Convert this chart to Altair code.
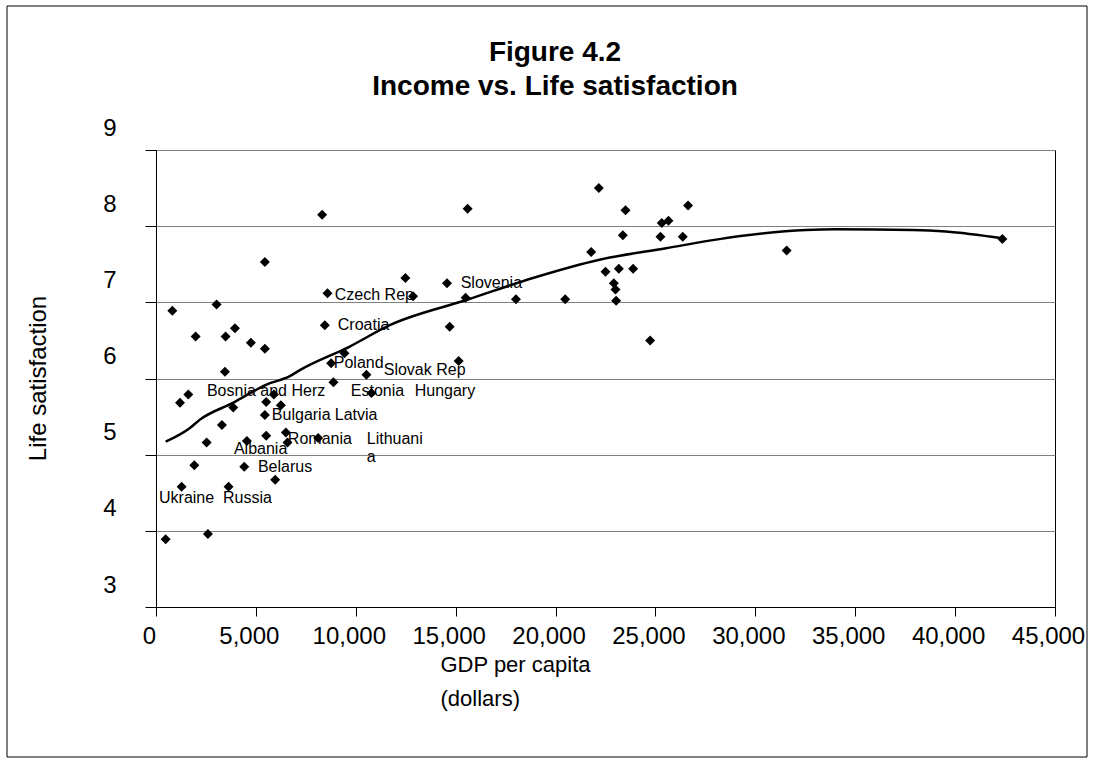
import altair as alt
import pandas as pd

# Scatter data: GDP per capita (dollars) and life satisfaction
gdp = [8317, 15600, 5450, 12483, 14567, 8583, 12867, 15500, 817, 3033,
       8450, 14700, 1983, 3483, 3950, 4750, 5450, 9433, 8767, 15150,
       3450, 10533, 8883, 1617, 1200, 5900, 5517, 6250, 3867, 10783,
       5450, 3300, 5517, 6500, 6583, 8117, 2533, 4550, 1917, 4417,
       5967, 1283, 3633, 483, 2600, 18017, 20483, 22167, 23500, 21783,
       23367, 25317, 25650, 26633, 25250, 26367, 22500, 23167, 23883, 22917,
       23000, 23033, 24733, 31567, 42367]
life = [8.15, 8.23, 7.53, 7.32, 7.25, 7.12, 7.08, 7.06, 6.89, 6.97,
        6.70, 6.68, 6.55, 6.55, 6.66, 6.47, 6.39, 6.33, 6.20, 6.23,
        6.09, 6.05, 5.95, 5.79, 5.68, 5.79, 5.69, 5.65, 5.62, 5.81,
        5.52, 5.39, 5.25, 5.29, 5.16, 5.22, 5.16, 5.18, 4.86, 4.84,
        4.67, 4.58, 4.58, 3.89, 3.96, 7.04, 7.04, 8.50, 8.21, 7.66,
        7.88, 8.04, 8.07, 8.27, 7.86, 7.86, 7.40, 7.44, 7.44, 7.25,
        7.17, 7.02, 6.50, 7.68, 7.83]

# Trend line
trend_gdp = [483, 1700, 2200, 3850, 5533, 6700, 7200, 9700, 11700, 15533,
             18867, 22200, 25533, 28200, 32533, 34033, 37867, 39533, 42367]
trend_life = [5.17, 5.35, 5.46, 5.68, 5.92, 6.03, 6.11, 6.42, 6.70, 7.03,
              7.32, 7.56, 7.71, 7.83, 7.95, 7.96, 7.95, 7.93, 7.84]

# Country labels
label_text = ["Czech Rep", "Croatia", "Poland", "Slovak Rep", "Slovenia",
              "Bosnia and Herz", "Estonia", "Hungary", "Bulgaria", "Latvia",
              "Romania", "Lithuani\na", "Albania", "Belarus", "Ukraine", "Russia"]
label_gdp = [8950, 9100, 8900, 11400, 15250,
             2550, 9750, 12950, 5800, 8950,
             6600, 10550, 3900, 5100, 150, 3350]
label_life = [7.03, 6.64, 6.14, 6.05, 7.19,
              5.77, 5.77, 5.77, 5.46, 5.46,
              5.14, 5.14, 5.01, 4.77, 4.37, 4.37]

title_lines = ["Figure 4.2", "Income vs. Life satisfaction"]

x_ticks = list(range(0, 45001, 5000))
y_ticks = [3, 4, 5, 6, 7, 8, 9]

FONT = "Liberation Sans"

pts = pd.DataFrame({"gdp": gdp, "life": life})
trend = pd.DataFrame({"gdp": trend_gdp, "life": trend_life})
labels = pd.DataFrame({"name": label_text, "gdp": label_gdp, "life": label_life})

xscale = alt.Scale(domain=[0, 45000], nice=False, zero=False)
yscale = alt.Scale(domain=[3, 9], nice=False, zero=False)

xaxis = alt.Axis(values=x_ticks, format=",.0f", labelFontSize=24, labelFont=FONT,
                 labelColor="black", tickColor="black", domainColor="black",
                 tickSize=9, labelPadding=8, labelOffset=-7, grid=False,
                 labelOverlap=False, labelFlush=False,
                 title=["GDP per capita", "(dollars)"], titleFontSize=22,
                 titleFont=FONT, titleFontWeight="normal", titleColor="black",
                 titleAlign="left", titleAnchor="start", titleX=284, titleY=64,
                 titleBaseline="alphabetic", titleLineHeight=34)
yaxis = alt.Axis(values=y_ticks, format="d", labelFontSize=24, labelFont=FONT,
                 labelColor="black", tickColor="black", domainColor="black",
                 tickSize=11, labelPadding=29, labelOffset=-22,
                 labelOverlap=False, labelFlush=False,
                 grid=True, gridColor="#808080", gridWidth=1,
                 title="Life satisfaction", titleFontSize=24, titleFont=FONT,
                 titleFontWeight="normal", titleColor="black",
                 titleX=-118, titleY=228, titleAngle=270,
                 titleBaseline="middle", titleAlign="center")

X = alt.X("gdp:Q", scale=xscale, axis=xaxis)
Y = alt.Y("life:Q", scale=yscale, axis=yaxis)

border = alt.Chart(pd.DataFrame({"a": [0]})).mark_rect(
    fillOpacity=0, stroke="black", strokeWidth=1
).encode(x=alt.value(-149), x2=alt.value(931), y=alt.value(-144), y2=alt.value(607))

title_df = pd.DataFrame({"t": title_lines, "row": [0, 1]})
title1 = alt.Chart(title_df).transform_filter("datum.row == 0").mark_text(
    fontSize=28, fontWeight="bold", font=FONT, color="black",
    align="center", baseline="middle"
).encode(text="t:N", x=alt.value(399), y=alt.value(-97))
title2 = alt.Chart(title_df).transform_filter("datum.row == 1").mark_text(
    fontSize=28, fontWeight="bold", font=FONT, color="black",
    align="center", baseline="middle"
).encode(text="t:N", x=alt.value(399), y=alt.value(-63))

points = alt.Chart(pts).mark_point(
    shape="diamond", filled=True, size=100, color="black", opacity=1
).encode(x=X, y=Y)

line = alt.Chart(trend).mark_line(color="black", strokeWidth=2.5, interpolate="monotone").encode(
    x=X, y=Y,
)

text = alt.Chart(labels).mark_text(
    align="left", baseline="alphabetic", fontSize=16, font=FONT,
    color="black", lineBreak="\n", lineHeight=18
).encode(x=X, y=Y, text="name:N")

chart = alt.layer(border, title1, title2, points, line, text).properties(
    width=899, height=457,
    autosize="none",
    padding={"left": 156, "top": 150, "right": 39, "bottom": 158},
    background="white",
).configure_view(stroke="black", strokeWidth=1)

chart.save("out.html", embed_options={"renderer": "svg", "actions": False})
